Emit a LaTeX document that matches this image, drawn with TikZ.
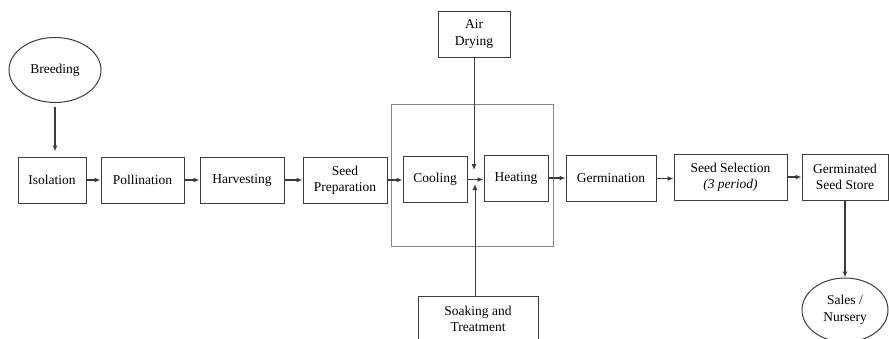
\documentclass[tikz,border=0pt]{standalone}
\usepackage{fontspec}
\setmainfont{Liberation Serif}
\usetikzlibrary{arrows.meta, positioning, shapes.geometric}
\definecolor{boxline}{RGB}{60, 60, 60}
\definecolor{frameline}{RGB}{135, 135, 135}
\tikzset{
  stage/.style={draw=boxline, line width=1pt, align=center, inner sep=1pt,
    minimum height=46pt, font=\fontsize{13.5}{16.5}\selectfont},
  oval/.style={ellipse, draw=boxline, line width=1pt, align=center, inner sep=0pt,
    font=\fontsize{13.5}{16.5}\selectfont},
  flow/.style={-{Latex[length=6pt,width=5pt]}, line width=1.3pt, draw=boxline}
}
\begin{document}
\begin{tikzpicture}[x=1pt, y=-1pt]
        \useasboundingbox (0,0) rectangle (889,338);
        % frame round the treatment steps
        \draw[frameline, line width=0.9pt] (391,104) rectangle (553,246);
        \foreach \name/\cx/\cy/\w/\txt in {
          iso/52/180/68/Isolation, pol/142.5/180/83/Pollination,
          har/242/180/84/Harvesting, prep/345/180/84/{Seed\\Preparation},
          cool/435/179.5/64/Cooling, heat/516/178/64/Heating,
          germ/611/178.5/90/Germination, sel/730.5/177/113/{Seed Selection\\\textit{(3 period)}},
          store/845/177/86/{Germinated\\Seed Store}, air/474/34/72/{Air\\Drying},
          soak/478/319/120/{Soaking and\\Treatment}}{
          \node[stage, minimum width={\w pt}] (\name) at (\cx,\cy) {\txt};
        }
        \node[oval, minimum width=92pt, minimum height=65pt] (breed) at (55,70) {Breeding};
        \node[oval, minimum width=86pt, minimum height=64pt] (sales) at (845,310) {Sales /\\Nursery};
        \foreach \a/\b in {iso/pol, pol/har, har/prep, prep/cool, cool/heat, heat/germ, germ/sel, sel/store}{
          \draw[flow] (\a.east) -- (\a.east -| \b.west);
        }
        \draw[flow, shorten <=4pt, shorten >=5pt] (breed.south) -- (breed.south |- iso.north);
        \draw[flow] (store.south) -- (sales.north);
        \coordinate (airtip) at (474,170);
        \coordinate (soaktip) at (475,184);
        \draw[flow, line width=0.9pt] (air.south) -- (airtip);
        \draw[flow, line width=0.9pt] (soaktip |- soak.north) -- (soaktip);
      \end{tikzpicture}
\end{document}
